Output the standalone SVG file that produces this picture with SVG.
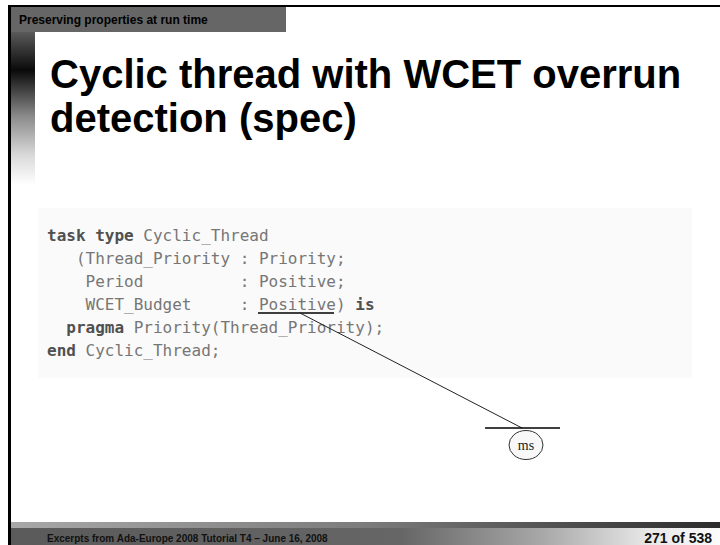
<svg xmlns="http://www.w3.org/2000/svg" width="720" height="545" viewBox="0 0 720 545">
<defs>
<linearGradient id="gLeft" x1="0" y1="0" x2="0" y2="1">
<stop offset="0" stop-color="#5a5a5a"/>
<stop offset="0.25" stop-color="#0a0a0a"/>
<stop offset="0.55" stop-color="#8a8a8a"/>
<stop offset="0.8" stop-color="#d8d8d8"/>
<stop offset="1" stop-color="#ffffff"/>
</linearGradient>
<linearGradient id="gStrip" x1="0" y1="0" x2="1" y2="0">
<stop offset="0" stop-color="#a8a8a8"/>
<stop offset="0.5" stop-color="#7c7c7c"/>
<stop offset="1" stop-color="#2c2c2c"/>
</linearGradient>
<linearGradient id="gFoot" x1="0" y1="0" x2="1" y2="0">
<stop offset="0" stop-color="#5a5a5a"/>
<stop offset="0.55" stop-color="#666666"/>
<stop offset="0.75" stop-color="#a8a8a8"/>
<stop offset="0.9" stop-color="#e8e8e8"/>
<stop offset="1" stop-color="#fbfbfb"/>
</linearGradient>
</defs>
<style>
.sans{font-family:"Liberation Sans",Arial,sans-serif;font-weight:bold;}
.code{font-family:"DejaVu Sans Mono","Liberation Mono",monospace;font-size:16px;fill:#767676;white-space:pre;}
.kw{font-weight:bold;fill:#505050;}
</style>
<rect x="0" y="0" width="720" height="545" fill="#ffffff"/>
<g id="frame">
<rect x="8" y="5" width="712" height="2" fill="#000"/>
<rect x="8" y="5" width="3" height="540" fill="#000"/>
<rect x="11" y="7" width="275" height="25" fill="#666666"/>
<rect x="11" y="32" width="24" height="153" fill="url(#gLeft)"/>
<text x="19" y="24" class="sans" font-size="12" fill="#000">Preserving properties at run time</text>
</g>
<g id="title">
<text x="50" y="88" class="sans" font-size="40" fill="#000">Cyclic thread with WCET overrun</text>
<text x="50" y="132" class="sans" font-size="40" fill="#000">detection (spec)</text>
</g>
<g id="code">
<rect x="38" y="208" width="654" height="170" fill="#fafafa"/>
<text x="47" y="241" class="code" xml:space="preserve"><tspan class="kw">task type</tspan> Cyclic_Thread</text>
<text x="47" y="264" class="code" xml:space="preserve">   (Thread_Priority : Priority;</text>
<text x="47" y="287" class="code" xml:space="preserve">    Period          : Positive;</text>
<text x="47" y="310" class="code" xml:space="preserve">    WCET_Budget     : Positive) <tspan class="kw">is</tspan></text>
<text x="47" y="333" class="code" xml:space="preserve">  <tspan class="kw">pragma</tspan> Priority(Thread_Priority);</text>
<text x="47" y="356" class="code" xml:space="preserve"><tspan class="kw">end</tspan> Cyclic_Thread;</text>
<line x1="258" y1="313" x2="334" y2="313" stroke="#000" stroke-width="1.5"/>
</g>
<g id="connectors">
<line x1="300" y1="313" x2="522" y2="428" stroke="#222" stroke-width="1"/>
</g>
<g id="ms">
<line x1="485" y1="428" x2="560" y2="428" stroke="#000" stroke-width="1.5"/>
<ellipse cx="526" cy="445" rx="17" ry="14.5" fill="#f8f8f8" stroke="#333" stroke-width="1"/>
<text x="526" y="450" font-family="Liberation Serif,Times New Roman,serif" font-size="14" text-anchor="middle" fill="#222">ms</text>
</g>
<g id="footer">
<rect x="11" y="522" width="709" height="6" fill="url(#gStrip)"/>
<rect x="11" y="528" width="709" height="17" fill="url(#gFoot)"/>
<text x="47" y="542" class="sans" font-size="10" fill="#111">Excerpts from Ada-Europe 2008 Tutorial T4 – June 16, 2008</text>
<text x="712" y="543" class="sans" font-size="14" text-anchor="end" fill="#111">271 of 538</text>
</g>
</svg>
